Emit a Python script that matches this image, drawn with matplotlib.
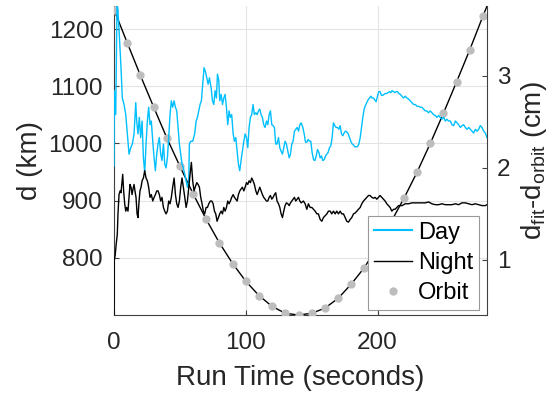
import matplotlib
matplotlib.use("Agg")
import matplotlib.pyplot as plt
from matplotlib.lines import Line2D

# ── Daten ───────────────────────────────────────────────
# Orbit-Abstand d (km), alle 10 s
orbit_t = [0, 10, 20, 30, 40, 50, 60, 70, 80, 90, 100, 110, 120, 130, 140,
           150, 160, 170, 180, 190, 200, 210, 220, 230, 240, 250, 260, 270, 280]
orbit_d = [1234, 1176, 1119, 1064, 1010, 960, 912, 867, 826, 790, 759, 734,
           715, 703, 700, 703, 712, 729, 754, 783, 820, 862, 904, 950, 1000,
           1053, 1108, 1164, 1223]
# Endpunkt der Orbit-Kurve am rechten Rand
orbit_end_t = [283]
orbit_end_d = [1240]

# Tag: d_fit - d_orbit (cm)
day_t = [0, 0.25, 1.3, 2.3, 3.0, 4.0, 5.3, 6.3, 7.6, 8.9, 10.1, 11.4, 12.7,
         13.9, 15.2, 16.5, 17.2, 18.2, 19.2, 20.2, 21.3, 22.3, 23.3, 24.3,
         25.3, 26.3, 27.3, 28.3, 29.4, 30.4, 31.4, 32.4, 33.4, 34.4, 35.4,
         36.4, 37.5, 38.5, 39.5, 40.5, 41.5, 42.5, 43.5, 44.5, 45.6, 46.6,
         47.6, 48.6, 49.6, 50.6, 51.6, 52.6, 53.7, 54.7, 55.7, 56.7, 57.2,
         58.2, 59.7, 61.2, 62.3, 63.3, 64.3, 65.3, 66.3, 67.3, 68.3, 69.3,
         70.4, 71.4, 72.4, 73.7, 74.7, 75.7, 76.7, 77.7, 78.5, 79.5, 80.2,
         81.3, 82.3, 83.3, 84.3, 85.3, 86.3, 87.3, 88.3, 89.3, 90.4, 91.4,
         92.4, 93.4, 94.4, 95.4, 96.4, 97.4, 98.5, 99.5, 100.5, 101.5, 102.5,
         103.5, 104.5, 105.5, 106.5, 107.6, 108.6, 109.6, 110.6, 111.6,
         112.6, 113.6, 114.6, 115.7, 116.7, 117.7, 118.7, 119.7, 120.7,
         121.7, 122.7, 123.7, 124.8, 125.8, 126.8, 127.8, 128.8, 129.8,
         130.8, 131.9, 132.9, 133.9, 134.9, 135.9, 136.9, 137.9, 139.0,
         140.0, 141.0, 142.0, 143.3, 144.3, 145.3, 146.3, 147.3, 148.3,
         149.3, 150.3, 151.4, 152.4, 153.4, 154.4, 155.4, 156.4, 157.4,
         158.4, 159.5, 160.5, 161.5, 162.5, 163.5, 164.5, 165.5, 166.5,
         167.5, 168.6, 169.6, 170.6, 171.6, 172.6, 173.6, 174.6, 175.6,
         176.7, 177.7, 178.7, 179.7, 180.7, 181.7, 182.7, 183.7, 184.7,
         185.8, 186.8, 187.8, 188.8, 189.8, 190.8, 191.8, 192.8, 193.9,
         194.9, 195.9, 196.9, 197.9, 198.9, 199.9, 200.9, 201.9, 202.9,
         203.9, 204.9, 205.9, 207.0, 208.0, 209.0, 210.0, 211.0, 212.0,
         213.0, 214.1, 215.1, 216.1, 217.2, 218.5, 219.7, 221.0, 222.3,
         223.5, 224.8, 226.1, 227.3, 228.6, 229.9, 231.1, 232.4, 233.6,
         234.9, 236.2, 237.4, 238.7, 240.0, 241.2, 242.5, 243.8, 245.0,
         246.3, 247.6, 248.8, 250.1, 251.4, 252.6, 253.9, 255.2, 256.4,
         257.7, 259.0, 260.2, 261.5, 262.8, 264.0, 265.3, 266.6, 267.8,
         269.1, 270.4, 271.6, 272.9, 274.2, 275.4, 276.7, 277.9, 279.2,
         280.5, 281.7, 283.0]
day_v = [2.02, 2.84, 2.58, 3.80, 3.71, 3.45, 3.09, 2.76, 2.69, 2.58, 2.37,
         2.15, 2.22, 2.26, 2.37, 2.71, 2.51, 2.37, 2.55, 2.33, 2.51, 2.11,
         1.95, 2.26, 2.51, 2.66, 2.47, 2.51, 2.29, 2.11, 1.97, 2.15, 2.26,
         2.33, 2.15, 2.08, 2.26, 2.04, 2.00, 2.11, 2.33, 2.58, 2.73, 2.66,
         2.73, 2.66, 2.62, 2.44, 2.26, 2.15, 2.04, 2.00, 1.93, 1.86, 1.79,
         1.86, 2.26, 2.29, 2.29, 2.37, 2.51, 2.55, 2.62, 2.69, 2.73, 2.91,
         3.09, 3.05, 2.98, 2.91, 2.98, 2.87, 2.73, 2.69, 2.84, 2.76, 3.02,
         2.95, 2.73, 2.80, 2.69, 2.76, 2.80, 2.66, 2.47, 2.62, 2.55, 2.58,
         2.37, 2.29, 2.33, 2.18, 2.04, 1.97, 2.08, 2.18, 2.29, 2.37, 2.33,
         2.22, 2.44, 2.55, 2.58, 2.69, 2.58, 2.60, 2.58, 2.62, 2.64, 2.58,
         2.55, 2.47, 2.44, 2.51, 2.47, 2.58, 2.62, 2.47, 2.46, 2.44, 2.26,
         2.26, 2.33, 2.22, 2.18, 2.15, 2.22, 2.29, 2.26, 2.18, 2.11, 2.15,
         2.26, 2.29, 2.40, 2.42, 2.44, 2.40, 2.47, 2.49, 2.44, 2.37, 2.28,
         2.28, 2.31, 2.29, 2.29, 2.17, 2.09, 2.08, 2.13, 2.20, 2.17, 2.11,
         2.13, 2.08, 2.09, 2.13, 2.15, 2.17, 2.22, 2.24, 2.33, 2.49, 2.46,
         2.44, 2.44, 2.42, 2.46, 2.37, 2.35, 2.38, 2.40, 2.39, 2.37, 2.33,
         2.29, 2.26, 2.25, 2.23, 2.23, 2.23, 2.26, 2.33, 2.44, 2.55, 2.64,
         2.68, 2.71, 2.74, 2.76, 2.78, 2.76, 2.76, 2.74, 2.72, 2.78, 2.83,
         2.83, 2.79, 2.79, 2.80, 2.81, 2.81, 2.82, 2.83, 2.82, 2.84, 2.83,
         2.82, 2.83, 2.83, 2.81, 2.80, 2.78, 2.76, 2.78, 2.76, 2.75, 2.73,
         2.71, 2.69, 2.69, 2.67, 2.67, 2.66, 2.66, 2.64, 2.62, 2.62, 2.60,
         2.62, 2.60, 2.58, 2.57, 2.55, 2.57, 2.55, 2.53, 2.55, 2.51, 2.53,
         2.51, 2.51, 2.47, 2.46, 2.51, 2.49, 2.47, 2.44, 2.46, 2.47, 2.44,
         2.42, 2.44, 2.42, 2.40, 2.38, 2.42, 2.40, 2.42, 2.46, 2.44, 2.40,
         2.38, 2.33]

# Nacht: d_fit - d_orbit (cm)
night_t = [0, 0.2, 0.9, 1.5, 2.5, 3.0, 3.8, 4.6, 5.3, 6.1, 6.6, 7.3, 8.1,
           8.9, 9.6, 10.6, 11.4, 12.1, 12.9, 13.7, 14.4, 15.2, 15.9, 16.7,
           17.5, 18.2, 19.0, 19.7, 20.5, 21.3, 22.3, 23.3, 24.3, 25.3, 26.3,
           27.3, 28.3, 29.4, 30.4, 31.4, 32.4, 33.4, 34.4, 35.4, 36.4, 37.5,
           38.5, 39.5, 40.5, 41.5, 42.5, 43.5, 44.5, 45.6, 46.6, 47.6, 48.6,
           49.6, 50.6, 51.6, 52.6, 53.7, 54.7, 55.7, 56.7, 57.7, 58.7, 59.7,
           60.7, 61.8, 62.8, 63.8, 64.8, 65.8, 66.8, 67.8, 68.8, 69.9, 70.9,
           71.9, 73.1, 74.2, 75.2, 76.2, 77.2, 78.2, 79.2, 80.2, 81.3, 82.3,
           83.3, 84.3, 85.3, 86.3, 87.3, 88.3, 89.3, 90.4, 91.4, 92.4, 93.4,
           94.4, 95.4, 96.4, 97.4, 98.5, 99.5, 100.5, 101.5, 102.5, 103.5,
           104.5, 105.5, 106.5, 107.6, 108.6, 109.6, 110.6, 111.6, 112.6,
           113.6, 114.6, 115.7, 116.7, 117.7, 118.7, 119.7, 120.7, 121.7,
           122.7, 123.7, 124.8, 125.8, 126.8, 127.8, 128.8, 129.8, 130.8,
           131.9, 132.9, 133.9, 134.9, 135.9, 136.9, 137.9, 139.0, 140.0,
           141.0, 142.0, 143.7, 145.0, 146.3, 147.5, 148.8, 150.1, 151.3,
           152.6, 153.9, 155.1, 156.4, 157.7, 158.9, 160.2, 161.5, 162.7,
           164.0, 165.2, 166.5, 167.8, 169.0, 170.3, 171.6, 172.8, 174.1,
           175.4, 176.6, 177.9, 179.2, 180.4, 181.7, 183.0, 184.2, 185.5,
           186.8, 188.0, 189.3, 190.6, 191.8, 193.1, 194.3, 195.6, 196.9,
           198.1, 199.4, 200.7, 201.9, 203.2, 204.5, 205.7, 207.0, 208.3,
           209.5, 210.8, 212.1, 213.3, 214.6, 215.9, 218.5, 221.0, 223.5,
           226.1, 228.6, 231.1, 233.6, 236.2, 238.7, 241.2, 243.8, 246.3,
           248.8, 251.4, 253.9, 256.4, 259.0, 261.5, 264.0, 266.6, 269.1,
           271.6, 274.2, 276.7, 279.2, 281.7, 283.0]
night_v = [0.40, 1.00, 1.05, 1.15, 1.28, 1.50, 1.71, 1.75, 1.73, 1.86, 1.93,
           1.75, 1.61, 1.53, 1.57, 1.53, 1.68, 1.82, 1.79, 1.71, 1.77, 1.82,
           1.75, 1.68, 1.50, 1.46, 1.64, 1.75, 1.79, 1.86, 1.89, 1.97, 1.89,
           1.86, 1.79, 1.68, 1.71, 1.64, 1.68, 1.71, 1.75, 1.75, 1.71, 1.64,
           1.68, 1.57, 1.53, 1.50, 1.53, 1.64, 1.61, 1.68, 1.79, 1.89, 1.71,
           1.61, 1.57, 1.64, 1.79, 1.89, 1.79, 1.68, 1.57, 1.64, 1.79, 1.93,
           2.06, 1.86, 1.75, 1.80, 1.84, 1.82, 1.79, 1.68, 1.61, 1.53, 1.50,
           1.57, 1.57, 1.61, 1.64, 1.64, 1.61, 1.53, 1.50, 1.42, 1.46, 1.50,
           1.53, 1.50, 1.57, 1.53, 1.57, 1.64, 1.61, 1.64, 1.68, 1.71, 1.68,
           1.66, 1.64, 1.71, 1.75, 1.77, 1.79, 1.75, 1.79, 1.84, 1.82, 1.86,
           1.84, 1.89, 1.86, 1.82, 1.75, 1.71, 1.75, 1.79, 1.75, 1.71, 1.68,
           1.66, 1.64, 1.64, 1.68, 1.70, 1.66, 1.68, 1.71, 1.73, 1.64, 1.61,
           1.57, 1.50, 1.46, 1.53, 1.59, 1.62, 1.61, 1.59, 1.62, 1.64, 1.66,
           1.68, 1.64, 1.66, 1.68, 1.64, 1.62, 1.64, 1.61, 1.55, 1.61, 1.57,
           1.57, 1.55, 1.53, 1.50, 1.50, 1.44, 1.42, 1.46, 1.48, 1.50, 1.53,
           1.53, 1.50, 1.53, 1.50, 1.53, 1.50, 1.53, 1.50, 1.50, 1.46, 1.42,
           1.41, 1.44, 1.46, 1.50, 1.51, 1.53, 1.55, 1.57, 1.61, 1.64, 1.66,
           1.68, 1.70, 1.70, 1.68, 1.67, 1.68, 1.66, 1.68, 1.70, 1.68, 1.66,
           1.64, 1.61, 1.59, 1.57, 1.53, 1.55, 1.55, 1.57, 1.59, 1.59, 1.61,
           1.61, 1.62, 1.62, 1.62, 1.62, 1.62, 1.63, 1.61, 1.60, 1.60, 1.61,
           1.60, 1.60, 1.60, 1.61, 1.60, 1.62, 1.62, 1.61, 1.60, 1.61, 1.60,
           1.59, 1.59, 1.60]

# ── Stil ─────────────────────────────────────────────────
plt.rcParams["font.family"] = ["Liberation Sans", "DejaVu Sans"]
plt.rcParams["mathtext.fontset"] = "custom"
plt.rcParams["mathtext.rm"] = "Liberation Sans"
plt.rcParams["axes.unicode_minus"] = False

TEXT = "#262626"
AXIS = "#404040"
CYAN = "#00bfff"
GRAY = "#bdbdbd"

fig = plt.figure(figsize=(5.6, 3.95), dpi=100)
ax = fig.add_axes([0.2036, 0.2025, 0.666, 0.782])
ax2 = ax.twinx()

# Orbit (linke Achse)
ax.plot(orbit_t + orbit_end_t, orbit_d + orbit_end_d, color="black", lw=1.0, zorder=3)
ax.plot(orbit_t, orbit_d, "o", color=GRAY, ms=6, mec="none", zorder=4)

# Tag / Nacht (rechte Achse)
ax2.plot(day_t, day_v, color=CYAN, lw=1.0)
ax2.plot(night_t, night_v, color="black", lw=1.0)

ax.set_xlim(0, 283)
ax.set_ylim(700, 1240)
ax2.set_ylim(0.40, 3.76)

ax.set_xticks([0, 100, 200])
ax.set_yticks([800, 900, 1000, 1100, 1200])
ax2.set_yticks([1, 2, 3])

ax.grid(True, color="#e3e3e3", lw=0.8)
ax.set_axisbelow(True)

for a in (ax, ax2):
    a.spines["top"].set_visible(False)
    for s in ("left", "right", "bottom"):
        a.spines[s].set_color(AXIS)
        a.spines[s].set_linewidth(0.8)
    a.tick_params(direction="in", length=3.5, width=0.8, color=AXIS,
                  labelsize=17.5, labelcolor=TEXT)
ax.tick_params(axis="x", pad=12)
ax.tick_params(axis="y", pad=8)
ax2.tick_params(axis="y", pad=7)
ax.spines["right"].set_visible(False)
ax2.spines["left"].set_visible(False)
ax2.spines["bottom"].set_visible(False)

ax.set_xlabel("Run Time (seconds)", fontsize=20, color=TEXT, labelpad=8)
ax.set_ylabel("d (km)", fontsize=20, color=TEXT, labelpad=4)
ax2.set_ylabel(r"d$_\mathregular{fit}$-d$_\mathregular{orbit}$ (cm)",
               fontsize=20, color=TEXT, labelpad=6)

handles = [Line2D([], [], color=CYAN, lw=1.5),
           Line2D([], [], color="black", lw=1.0),
           Line2D([], [], marker="o", ls="none", color=GRAY, ms=6, mec="none")]
leg = ax2.legend(handles, ["Day", "Night", "Orbit"], loc="lower right",
                 bbox_to_anchor=(0.9786, 0.016), borderaxespad=0,
                 fontsize=17, fancybox=False, framealpha=1,
                 edgecolor="#999999", handlelength=1.6, handletextpad=0.25,
                 labelspacing=0.35, borderpad=0.25)
leg.get_frame().set_linewidth(0.8)

fig.savefig("out.png", dpi=100)
